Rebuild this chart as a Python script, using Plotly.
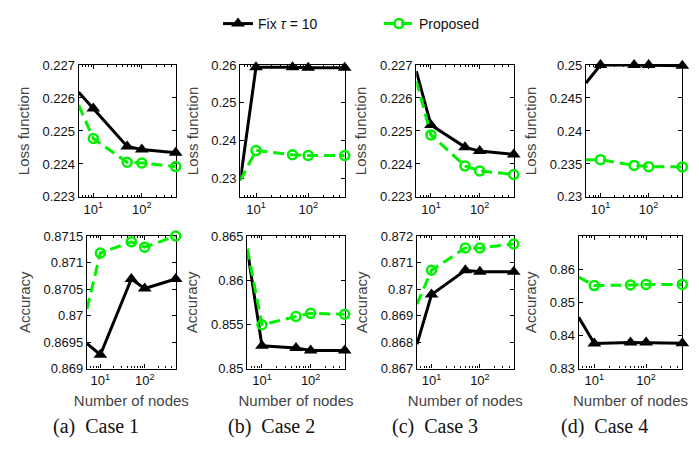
import math
import plotly.graph_objects as go

# ---------------- data ----------------
nodes = [5, 10, 50, 100, 500]

loss_fix = [
    [0.22617, 0.22568, 0.22453, 0.22444, 0.22434],   # case 1
    [0.2294, 0.2594, 0.2594, 0.2593, 0.2593],        # case 2
    [0.22681, 0.22518, 0.22451, 0.22439, 0.22429],   # case 3
    [0.24727, 0.2500, 0.2500, 0.2500, 0.2499],       # case 4
]
loss_prop = [
    [0.22578, 0.22477, 0.22405, 0.22403, 0.22392],
    [0.2294, 0.2373, 0.2362, 0.2360, 0.2360],
    [0.22652, 0.22488, 0.22394, 0.22379, 0.22368],
    [0.23565, 0.23565, 0.23478, 0.23459, 0.23455],
]
acc_fix = [
    [0.86947, 0.86926, 0.87069, 0.87051, 0.87069],
    [0.86346, 0.85257, 0.85232, 0.85204, 0.85204],
    [0.86792, 0.86979, 0.87071, 0.87065, 0.87065],
    [0.84548, 0.83755, 0.83783, 0.83783, 0.83764],
]
acc_prop = [
    [0.870125, 0.87118, 0.87139, 0.87129, 0.8715],
    [0.86357, 0.85496, 0.85589, 0.85625, 0.85614],
    [0.86943, 0.87071, 0.87155, 0.87155, 0.8717],
    [0.85761, 0.85503, 0.85522, 0.8554, 0.8554],
]

loss_ranges = [[0.223, 0.227], [0.225, 0.26], [0.223, 0.227], [0.23, 0.25]]
acc_ranges = [[0.869, 0.8715], [0.85, 0.865], [0.867, 0.872], [0.83, 0.87]]

loss_ticks = [
    ["0.223", "0.224", "0.225", "0.226", "0.227"],
    ["0.23", "0.24", "0.25", "0.26"],
    ["0.223", "0.224", "0.225", "0.226", "0.227"],
    ["0.23", "0.235", "0.24", "0.245", "0.25"],
]
acc_ticks = [
    ["0.869", "0.8695", "0.87", "0.8705", "0.871", "0.8715"],
    ["0.85", "0.855", "0.86", "0.865"],
    ["0.867", "0.868", "0.869", "0.87", "0.871", "0.872"],
    ["0.83", "0.84", "0.85", "0.86"],
]

x_tickvals = [10, 100]
x_ticktext = ["10<sup>1</sup>", "10<sup>2</sup>"]
x_minor = [6, 7, 8, 9, 20, 30, 40, 50, 60, 70, 80, 90, 200, 300, 400]

captions = ["(a)&nbsp; Case 1", "(b)&nbsp; Case 2", "(c)&nbsp; Case 3", "(d)&nbsp; Case 4"]
series_names = ["Fix <i>τ</i> = 10", "Proposed"]

# ---------------- layout geometry (pixels) ----------------
W, H = 699, 449
top_x = [(70.7, 167.7), (232.3, 336.7), (408.3, 505.7), (578.0, 674.3)]
bot_x = [(79.0, 167.7), (239.3, 336.7), (409.0, 505.7), (570.7, 674.3)]
top_y = (43.3, 182.7)
bot_y = (224.0, 364.0)
caption_x = [88, 263, 427, 596]
caption_y = 425

def xd(p):
    return [p[0] / W, p[1] / W]

def yd(p):
    return [1 - p[1] / H, 1 - p[0] / H]

BLACK = "#000000"
GREEN = "#00F000"
tickfont = dict(family="Liberation Sans, Arial, sans-serif", size=13, color="#111")
titlefont = dict(family="Liberation Sans, Arial, sans-serif", size=15, color="#444")

fig = go.Figure()

panels = []
for i in range(4):
    panels.append(("top", i, loss_fix[i], loss_prop[i], loss_ranges[i], loss_ticks[i]))
for i in range(4):
    panels.append(("bot", i, acc_fix[i], acc_prop[i], acc_ranges[i], acc_ticks[i]))

layout_axes = {}
for k, (row, i, yf, yp, yr, yt) in enumerate(panels):
    n = k + 1
    xa = "x" if n == 1 else f"x{n}"
    ya = "y" if n == 1 else f"y{n}"
    first = (k == 0)
    fig.add_trace(go.Scatter(
        x=nodes, y=yf, xaxis=xa, yaxis=ya, mode="lines+markers",
        name=series_names[0], legendgroup="fix", showlegend=first,
        line=dict(color=BLACK, width=3),
        marker=dict(symbol="triangle-up", size=12, color=BLACK),
        cliponaxis=False,
    ))
    fig.add_trace(go.Scatter(
        x=nodes, y=yp, xaxis=xa, yaxis=ya, mode="lines+markers",
        name=series_names[1], legendgroup="prop", showlegend=first,
        line=dict(color=GREEN, width=3, dash="11px,6px"),
        marker=dict(symbol="circle-open", size=9, color=GREEN, line=dict(width=2.5, color=GREEN)),
        cliponaxis=False,
    ))
    px = top_x[i] if row == "top" else bot_x[i]
    py = top_y if row == "top" else bot_y
    xkey = "xaxis" if n == 1 else f"xaxis{n}"
    ykey = "yaxis" if n == 1 else f"yaxis{n}"
    layout_axes[xkey] = dict(
        type="log", domain=xd(px), anchor=ya,
        range=[math.log10(nodes[0]), math.log10(nodes[-1])],
        tickvals=x_tickvals, ticktext=x_ticktext,
        ticks="inside", ticklen=4, tickcolor=BLACK,
        minor=dict(tickvals=x_minor, ticks="inside", ticklen=2, tickcolor=BLACK),
        showline=True, linecolor=BLACK, linewidth=1.2, mirror="ticks",
        showgrid=False, zeroline=False, tickfont=tickfont, layer="below traces",
        title=dict(text="Number of nodes" if row == "bot" else "", font=titlefont, standoff=8),
    )
    tv = [float(t) for t in yt]
    layout_axes[ykey] = dict(
        domain=yd(py), anchor=xa, range=yr,
        tickvals=tv, ticktext=yt,
        ticks="inside", ticklen=4, tickcolor=BLACK,
        showline=True, linecolor=BLACK, linewidth=1.2, mirror="ticks",
        showgrid=False, zeroline=False, tickfont=tickfont, layer="below traces",
        title=dict(text="Loss function" if row == "top" else "Accuracy", font=titlefont, standoff=9),
    )

fig.update_layout(**layout_axes)

for c, cx in zip(captions, caption_x):
    fig.add_annotation(
        text=c, xref="paper", yref="paper", x=cx / W, y=1 - caption_y / H,
        xanchor="center", yanchor="middle", showarrow=False,
        font=dict(family="Liberation Serif, Times New Roman, serif", size=20, color="#111"),
    )

fig.update_layout(
    width=W, height=H,
    margin=dict(l=0, r=0, t=0, b=0),
    paper_bgcolor="white", plot_bgcolor="rgba(0,0,0,0)",
    showlegend=True,
    legend=dict(
        orientation="h", x=210 / W, y=1 + 17 / H, xanchor="left", yanchor="top",
        font=dict(family="Liberation Sans, Arial, sans-serif", size=14, color="#111"),
        bgcolor="rgba(0,0,0,0)", entrywidth=116, entrywidthmode="pixels",
        tracegroupgap=0,
    ),
)

fig.write_html("out.html")
